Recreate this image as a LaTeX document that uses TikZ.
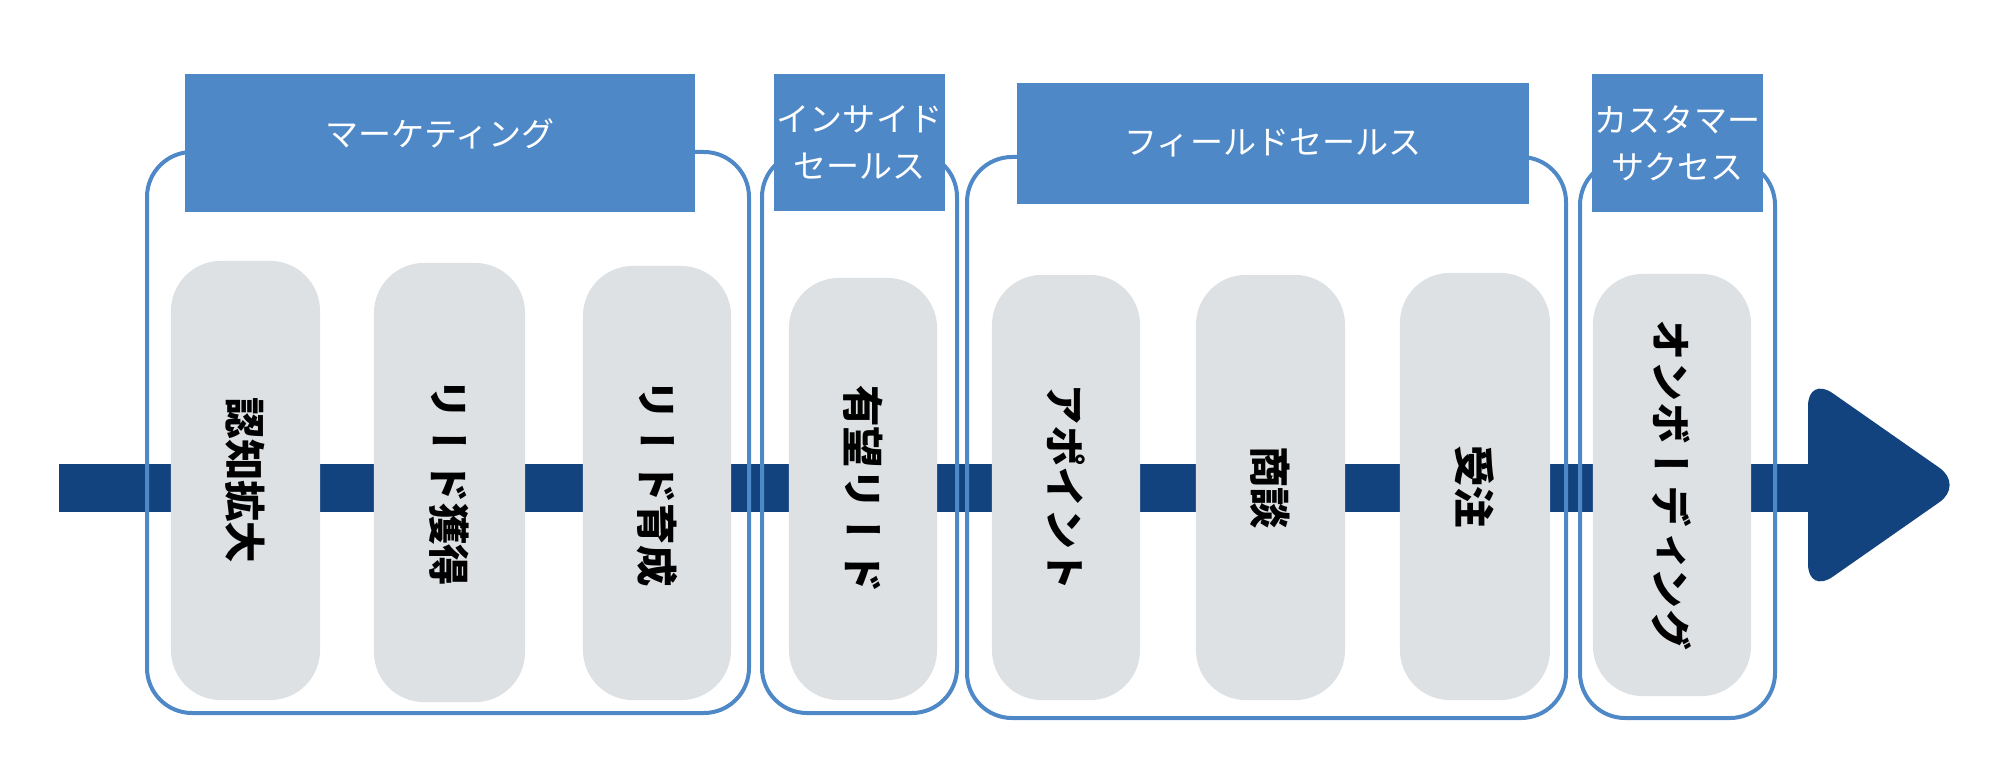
\documentclass[tikz,border=0pt]{standalone}
\usepackage{fontspec}
\newfontfamily\jpfont{Noto Sans CJK JP}
\newfontfamily\jpvert[Vertical=RotatedGlyphs]{Noto Sans CJK JP}
\definecolor{barblue}{HTML}{12437F}
\definecolor{headblue}{HTML}{4F88C6}
\definecolor{pillgray}{HTML}{DEE1E3}
\tikzset{
  head/.style={fill=headblue, text=white, inner sep=0pt, align=center, font=\jpfont\fontsize{9.4}{13.4}\selectfont},
  pill/.style={fill=pillgray, rotate=-90, rounded corners=5mm, inner sep=0pt, font=\jpvert\bfseries\fontsize{11.8}{14}\selectfont},
  group/.style={draw=headblue, line width=0.4mm, rounded corners=4.5mm},
}
\begin{document}
\begin{tikzpicture}[x=0.01cm, y=-0.01cm]
\useasboundingbox (0,0) rectangle (2000,782);
% flow
\coordinate (s) at (59,488);
\coordinate (e) at (1830,488);
\draw[barblue, line width=4.8mm] (s) -- (e);
\fill[barblue, rounded corners=3mm] (1808,376) -- (1964,485) -- (1808,594) -- cycle;
% phases
\draw[group] (147,152) rectangle (749,713);
\draw[group] (762,152) rectangle (957,713);
\draw[group] (967,157) rectangle (1566,718);
\draw[group] (1580,160) rectangle (1775,718);
\node[head, minimum width=5.1cm, minimum height=1.38cm] (h0) at (440,143) {\raisebox{0.2cm}{マーケティング}};
\node[head, minimum width=1.71cm, minimum height=1.37cm] (h1) at (859.5,142.5) {インサイド\\セールス};
\node[head, minimum width=5.12cm, minimum height=1.21cm] (h2) at (1273,143.5) {フィールドセールス};
\node[head, minimum width=1.71cm, minimum height=1.37cm] (h3) at (1677.5,143) {カスタマー\\サクセス};
% steps
\node[pill, minimum width=4.39cm, minimum height=1.49cm] (p0) at (245.5,480.5) {認知拡大};
\node[pill, minimum width=4.39cm, minimum height=1.51cm] (p1) at (449.5,482.5) {リード獲得};
\node[pill, minimum width=4.34cm, minimum height=1.48cm] (p2) at (657,483) {リード育成};
\node[pill, minimum width=4.22cm, minimum height=1.48cm] (p3) at (863,489) {有望リード};
\node[pill, minimum width=4.25cm, minimum height=1.48cm] (p4) at (1066,487.5) {アポイント};
\node[pill, minimum width=4.25cm, minimum height=1.49cm] (p5) at (1270.5,487.5) {商談};
\node[pill, minimum width=4.27cm, minimum height=1.50cm] (p6) at (1475,486.5) {受注};
\node[pill, minimum width=4.22cm, minimum height=1.58cm] (p7) at (1672,485) {オンボーディング};
\end{tikzpicture}
\end{document}
